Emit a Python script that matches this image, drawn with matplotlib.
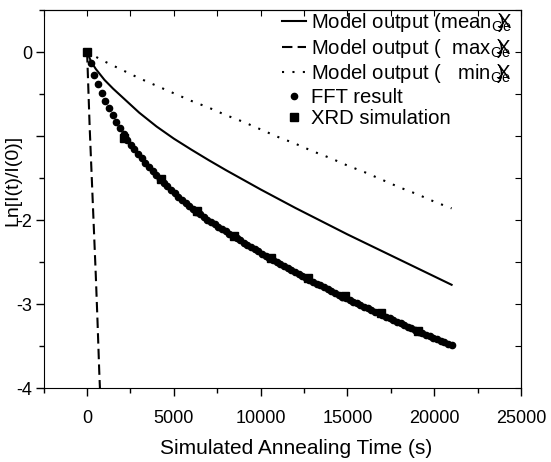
import numpy as np
import matplotlib.pyplot as plt

plt.rcParams['font.family'] = ['Liberation Sans', 'DejaVu Sans']
plt.rcParams['mathtext.fontset'] = 'custom'
plt.rcParams['mathtext.rm'] = 'Liberation Sans'

# model curves (time in s, Ln[I(t)/I(0)])
mean_t = [0, 250, 500, 1000, 1500, 2000, 3000, 4000, 5000, 6000, 7000, 8000, 9000,
          10000, 11000, 12000, 13000, 14000, 15000, 16000, 17000, 18000, 19000, 20000, 21000]
mean_y = [0, -0.12, -0.20, -0.33, -0.435, -0.53, -0.72, -0.885, -1.03, -1.16, -1.285, -1.405, -1.52,
          -1.635, -1.745, -1.855, -1.96, -2.065, -2.17, -2.27, -2.37, -2.47, -2.57, -2.67, -2.77]

max_t = [0, 50, 100, 150, 200, 300, 400, 500, 600, 700, 800]
max_y = [0, -0.30, -0.60, -0.90, -1.15, -1.65, -2.15, -2.65, -3.20, -3.80, -4.30]

min_t = [0, 1000, 2000, 3000, 4000, 5000, 6000, 7000, 8000, 9000, 10000, 11000,
         12000, 13000, 14000, 15000, 16000, 17000, 18000, 19000, 20000, 21000]
min_y = [0, -0.11, -0.21, -0.31, -0.40, -0.49, -0.58, -0.66, -0.75, -0.83, -0.92, -1.01,
         -1.09, -1.18, -1.26, -1.35, -1.43, -1.52, -1.61, -1.69, -1.78, -1.86]

# FFT result, one point every 210 s
fft_y = [0, -0.13, -0.27, -0.38, -0.49, -0.58, -0.67, -0.75, -0.83, -0.90, -0.97,
         -1.042, -1.101, -1.158, -1.213, -1.266, -1.317, -1.367, -1.416, -1.463, -1.510,
         -1.555, -1.598, -1.640, -1.680, -1.719, -1.757, -1.794, -1.830, -1.865, -1.900,
         -1.932, -1.963, -1.993, -2.022, -2.051, -2.080, -2.108, -2.135, -2.162, -2.190,
         -2.216, -2.242, -2.268, -2.294, -2.320, -2.346, -2.372, -2.398, -2.424, -2.450,
         -2.474, -2.498, -2.522, -2.546, -2.570, -2.594, -2.618, -2.642, -2.666, -2.690,
         -2.712, -2.734, -2.756, -2.778, -2.800, -2.822, -2.844, -2.866, -2.888, -2.910,
         -2.930, -2.950, -2.970, -2.990, -3.010, -3.030, -3.050, -3.070, -3.090, -3.110,
         -3.130, -3.150, -3.170, -3.190, -3.210, -3.230, -3.250, -3.270, -3.290, -3.310,
         -3.328, -3.346, -3.364, -3.382, -3.400, -3.418, -3.436, -3.454, -3.472, -3.490]
fft_t = np.arange(len(fft_y)) * 210

xrd_t = [0, 2120, 4240, 6360, 8480, 10600, 12720, 14840, 16960, 19080]
xrd_y = [0, -1.02, -1.51, -1.89, -2.19, -2.45, -2.685, -2.90, -3.11, -3.32]

# y tick labels as printed (the -1 label is hidden behind the axis title)
ytick_vals = [-4, -3, -2, -1, 0]
ytick_text = ['-4', '-3', '-2', '', '0']

sub = r'$_{\mathregular{Ge}}\!\!\!\!\mathregular{X}\!\!\!\!\mathregular{)}$'

fig = plt.figure(figsize=(5.51, 4.62), dpi=100)
ax = fig.add_axes([0.0793, 0.160, 0.8663, 0.818])

ax.plot(mean_t, mean_y, color='black', lw=1.5, label='Model output (mean' + sub)
ax.plot(max_t, max_y, color='black', lw=1.5, linestyle=(0, (5, 2.5)),
        label='Model output (  max' + sub)
ax.plot(min_t, min_y, color='black', lw=1.5, linestyle=(0, (1, 4)),
        label='Model output (   min' + sub)
ax.plot(fft_t, fft_y, 'o', color='black', ms=4.5, label='FFT result')
ax.plot(xrd_t, xrd_y, 's', color='black', ms=6, label='XRD simulation')

ax.set_xlim(-2500, 25000)
ax.set_ylim(-4, 0.5)
ax.set_xticks([0, 5000, 10000, 15000, 20000, 25000])
ax.set_xticks(np.arange(-2500, 25001, 2500), minor=True)
ax.set_yticks(ytick_vals)
ax.set_yticklabels(ytick_text)
ax.set_yticks(np.arange(-4, 0.51, 0.5), minor=True)
ax.tick_params(which='major', direction='out', length=6, width=1, labelsize=13)
ax.tick_params(which='minor', direction='out', length=3.5, width=1)
ax.tick_params(axis='x', which='major', pad=9.5)
ax.tick_params(axis='y', which='major', pad=2)

# inward ticks on top and right
top = ax.secondary_xaxis('top')
top.set_xticks(np.arange(-2500, 25001, 2500))
top.tick_params(direction='in', length=4, labeltop=False)
right = ax.secondary_yaxis('right')
right.set_yticks(np.arange(-4, 0.51, 0.5))
right.tick_params(direction='in', length=4, labelright=False)

ax.set_xlabel('Simulated Annealing Time (s)', fontsize=15)
ax.xaxis.set_label_coords(0.529, -0.135)
ax.set_ylabel('Ln[I(t)/I(0)]', fontsize=14)
ax.yaxis.set_label_coords(-0.046, 0.55)

ax.legend(loc='upper right', frameon=False, fontsize=14.6, handlelength=1.2,
          handletextpad=0.25, labelspacing=0.12, borderaxespad=0.0,
          borderpad=0.0, bbox_to_anchor=(0.983, 0.997))

fig.savefig('out.png', dpi=100)
